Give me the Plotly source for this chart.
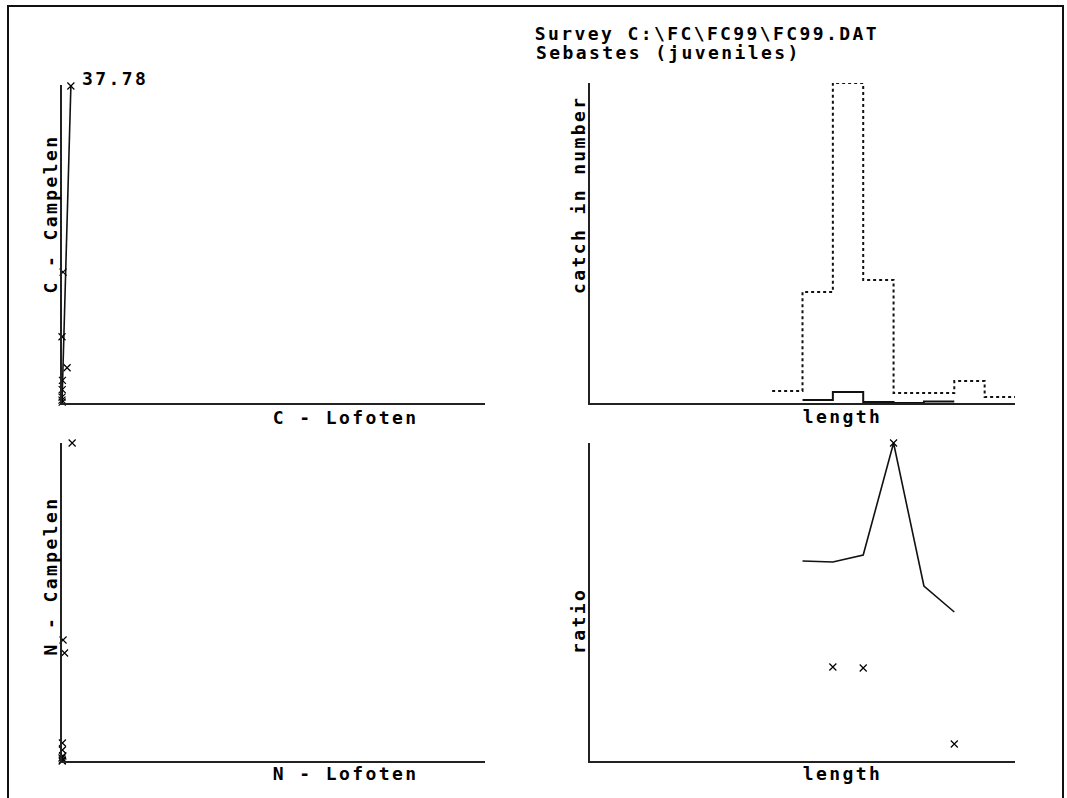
import plotly.graph_objects as go

W, H = 1067, 798

def fx(px):
    return px / W

def fy(py):
    return 1 - py / H

# ---------------- data ----------------
# Top-left: C - Lofoten vs C - Campelen
c_lofoten = [2.1, 0.25, 0.0, 1.2, 0.1, 0.05, 0.0, 0.0, 0.05]
c_campelen = [37.78, 15.6, 7.9, 4.2, 2.7, 1.6, 0.7, 0.35, 0.1]
c_fit_x = [0.0, 2.1]
c_fit_y = [0.0, 37.78]
c_max_label = "37.78"

# Bottom-left: N - Lofoten vs N - Campelen
n_lofoten = [2.4, 0.25, 0.6, 0.1, 0.1, 0.2, 0.0, 0.1, 0.05]
n_campelen = [318, 121, 108, 18, 11, 5, 3, 1, 0]

# Top-right: catch in number by length bin
length_edges = [6, 7, 8, 9, 10, 11, 12, 13, 14]
catch_lofoten = [12, 111, 320, 123, 10, 10, 22, 6]
solid_edges = [7, 8, 9, 10, 11, 12]
catch_campelen = [3, 11, 1, 0, 1.5]

# Bottom-right: ratio by length
ratio_len = [7, 8, 9, 10, 11, 12]
ratio_line = [2.00, 1.99, 2.06, 3.18, 1.75, 1.49]
ratio_pts_len = [8, 9, 10, 12]
ratio_pts = [0.94, 0.93, 3.18, 0.17]

title1 = "Survey C:\\FC\\FC99\\FC99.DAT"
title2 = "Sebastes (juveniles)"

# ---------------- figure ----------------
fig = go.Figure()
mk = dict(symbol="x-thin", size=7, color="black", line=dict(width=1.2, color="black"))

fig.add_trace(go.Scatter(x=c_fit_x, y=c_fit_y, mode="lines",
                         line=dict(color="#111", width=1.6), xaxis="x", yaxis="y"))
fig.add_trace(go.Scatter(x=c_lofoten, y=c_campelen, mode="markers", marker=mk,
                         xaxis="x", yaxis="y", cliponaxis=False))

fig.add_trace(go.Scatter(x=n_lofoten, y=n_campelen, mode="markers", marker=mk,
                         xaxis="x3", yaxis="y3", cliponaxis=False))

fig.add_trace(go.Scatter(x=length_edges, y=catch_lofoten + [catch_lofoten[-1]],
                         mode="lines", line=dict(color="#111", width=2, dash="3px,3px", shape="hv"),
                         xaxis="x2", yaxis="y2"))
fig.add_trace(go.Scatter(x=solid_edges, y=catch_campelen + [catch_campelen[-1]],
                         mode="lines", line=dict(color="#111", width=2, shape="hv"),
                         xaxis="x2", yaxis="y2"))

fig.add_trace(go.Scatter(x=ratio_len, y=ratio_line, mode="lines",
                         line=dict(color="#111", width=1.6), xaxis="x4", yaxis="y4"))
fig.add_trace(go.Scatter(x=ratio_pts_len, y=ratio_pts, mode="markers", marker=mk,
                         xaxis="x4", yaxis="y4", cliponaxis=False))

ax = dict(showline=True, linecolor="#222", linewidth=2, showgrid=False, zeroline=False,
          showticklabels=False, ticks="", mirror=False, fixedrange=True)

fig.update_layout(
    width=W, height=H, margin=dict(l=0, r=0, t=0, b=0),
    paper_bgcolor="white", plot_bgcolor="white", showlegend=False,
    xaxis=dict(ax, domain=[fx(62), fx(485)], range=[0, 100], anchor="y"),
    yaxis=dict(ax, domain=[fy(403), fy(85)], range=[0, 37.9], anchor="x"),
    xaxis2=dict(ax, domain=[fx(590), fx(1015)], range=[0, 14], anchor="y2"),
    yaxis2=dict(ax, domain=[fy(403), fy(83)], range=[0, 320], anchor="x2"),
    xaxis3=dict(ax, domain=[fx(62), fx(485)], range=[0, 100], anchor="y3"),
    yaxis3=dict(ax, domain=[fy(761), fy(443)], range=[0, 318], anchor="x3"),
    xaxis4=dict(ax, domain=[fx(590), fx(1015)], range=[0, 14], anchor="y4"),
    yaxis4=dict(ax, domain=[fy(761), fy(443)], range=[0, 3.18], anchor="x4"),
)

font = dict(family="DejaVu Sans Mono", size=18, color="black", weight="bold")

def ann(text, cx, cy, angle=0):
    fig.add_annotation(text=text, xref="paper", yref="paper", x=fx(cx), y=fy(cy),
                       xanchor="center", yanchor="middle", showarrow=False,
                       textangle=angle, font=font)

ann(title1, 707, 34)
ann(title2, 668, 53)
ann(c_max_label, 115, 78)
ann("C - Campelen", 50, 214, -90)
ann("C - Lofoten", 345, 417)
ann("N - Campelen", 50, 576, -90)
ann("N - Lofoten", 345, 773)
ann("catch in number", 578, 195, -90)
ann("ratio", 578, 621, -90)
ann("length", 842, 416)
ann("length", 842, 773)

# outer frame
fig.add_shape(type="rect", xref="paper", yref="paper", x0=fx(8), x1=fx(1063), y0=fy(804), y1=fy(6),
              line=dict(color="#111", width=2))

post = """
var s=document.createElement('style');
s.textContent='.annotation-text{letter-spacing:2.4px;}';
document.head.appendChild(s);
"""
fig.write_html("out.html", post_script=post, config={"responsive": False, "displayModeBar": False})
